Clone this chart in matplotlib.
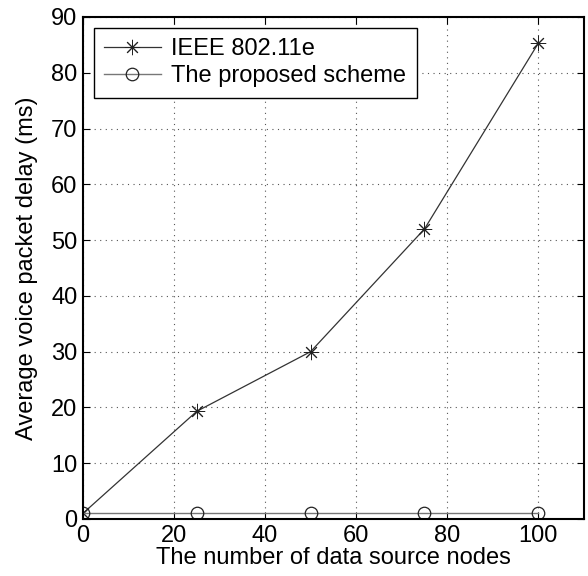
import matplotlib
matplotlib.use('Agg')
import matplotlib.pyplot as plt

nodes = [0, 25, 50, 75, 100]
delay_80211e = [1.0, 19.3, 30.0, 52.0, 85.3]
delay_proposed = [1.0, 1.0, 1.0, 1.0, 1.0]

plt.rcParams['font.family'] = ['Liberation Sans', 'DejaVu Sans']
plt.rcParams['font.size'] = 17

fig = plt.figure(figsize=(5.88, 5.76), dpi=100)
ax = fig.add_axes([0.141, 0.099, 0.852, 0.8715])

ax.plot(nodes, delay_80211e, '-', color='#333333', lw=0.9, marker=(8, 2, 0),
        ms=11, mec='#222222', mew=0.7, label='IEEE 802.11e')
ax.plot(nodes, delay_proposed, '-', color='#777777', lw=1.0, marker='o',
        ms=9, mfc='none', mec='#222222', mew=0.9, label='The proposed scheme')

ax.set_xlim(0, 110)
ax.set_ylim(0, 90)
ax.set_xticks([0, 20, 40, 60, 80, 100])
ax.set_yticks(range(0, 91, 10))
ax.grid(True, linestyle=(0, (1, 4)), color='#555555', lw=0.8)
ax.tick_params(direction='in', top=True, right=True, length=5, pad=4)
for s in ax.spines.values():
    s.set_linewidth(1.5)

ax.set_xlabel('The number of data source nodes', labelpad=0)
ax.set_ylabel('Average voice packet delay (ms)', labelpad=9)

leg = ax.legend(loc='upper left', fancybox=False, edgecolor='black',
                framealpha=1, borderaxespad=0.45, handlelength=2.4,
                handletextpad=0.45, borderpad=0.45, labelspacing=0.2)
leg.get_frame().set_linewidth(1.0)

fig.savefig('out.png', dpi=100)
